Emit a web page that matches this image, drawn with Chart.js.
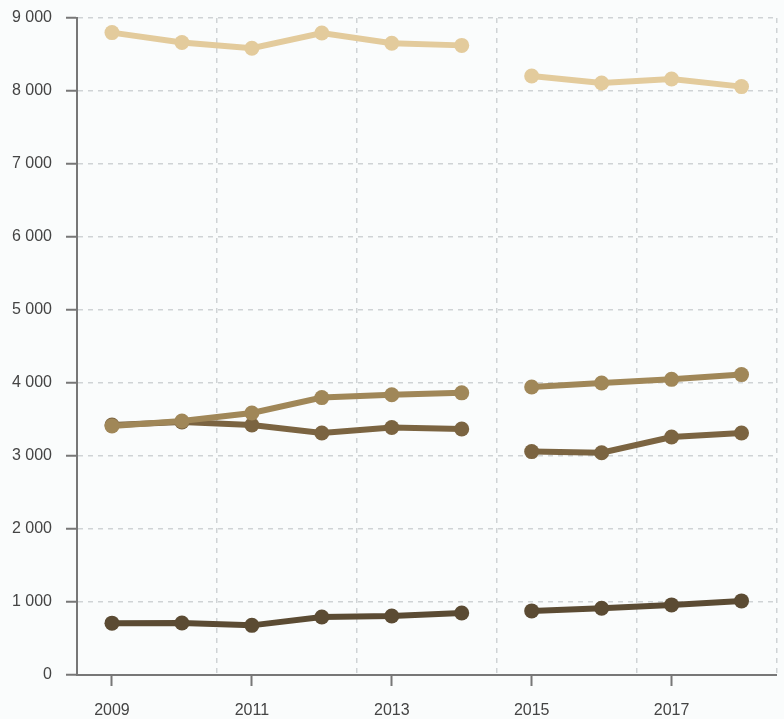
<!DOCTYPE html>
<html>
<head>
<meta charset="utf-8">
<script src="https://cdn.jsdelivr.net/npm/chart.js@4"></script>
<style>
  body { margin: 0; background: #fafcfc; }
  #wrap { width: 784px; height: 719px; position: relative; }
</style>
</head>
<body>
<div id="wrap"><canvas id="chart"></canvas></div>
<script>
let years = [2009, 2010, 2011, 2012, 2013, 2014, 2015, 2016, 2017, 2018];
let xLabelYears = [2009, 2011, 2013, 2015, 2017];
let gridYears = [2010.5, 2012.5, 2014.5, 2016.5, 2018.5];
let breakAfter = 2014; // series restart in 2015

let seriesLight  = [8800, 8665, 8585, 8795, 8655, 8625, 8205, 8110, 8165, 8060];
let seriesTan    = [3410, 3480, 3590, 3800, 3840, 3865, 3945, 4000, 4050, 4115];
let seriesMedium = [3425, 3465, 3425, 3315, 3390, 3370, 3060, 3045, 3260, 3315];
let seriesDark   = [710, 712, 680, 795, 808, 850, 878, 915, 960, 1015];

let Colors = ['#e3cb9c', '#a08758', '#7b6441', '#5b4b33'];
let allSeries = [seriesLight, seriesTan, seriesMedium, seriesDark];

function fmt(v){
    return String(v).replace(/\B(?=(\d{3})+(?!\d))/g, ' ');
}

let DataChart = allSeries.map((serie, i) => {
    return {
        data: serie.map((v, j) => ({x: years[j], y: v})),
        borderColor: Colors[i],
        backgroundColor: Colors[i],
        pointBackgroundColor: Colors[i],
        pointBorderWidth: 0,
        pointRadius: 7.5,
        borderWidth: 6,
        fill: false,
        tension: 0,
        segment: {
            borderColor: ctx => ctx.p0.parsed.x === breakAfter ? 'transparent' : undefined
        }
    }
});

let axisColor = '#777777';
let gridColor = '#cfd3d5';
let font = {family: '"Liberation Sans", Arial, sans-serif', size: 16};

// labels should not push the plot area around
function noPad(s){
    s.paddingTop = 0; s.paddingBottom = 0; s.paddingLeft = 0; s.paddingRight = 0;
}

new Chart(document.getElementById('chart'), {
    type: 'line',
    data: { datasets: DataChart },
    options: {
        responsive: true,
        maintainAspectRatio: false,
        animation: false,
        layout: { padding: {top: 18, right: 7, left: 0, bottom: 0} },
        plugins: { legend: { display: false }, tooltip: { enabled: false } },
        scales: {
            x: {
                type: 'linear',
                min: 2008.5,
                max: 2018.5,
                afterBuildTicks: s => { s.ticks = xLabelYears.map(v => ({value: v})); },
                afterFit: s => { s.height = 44; noPad(s); },
                ticks: { color: '#444', font: font, padding: 15, callback: v => String(v), maxRotation: 0 },
                grid: { drawOnChartArea: false, drawTicks: true, tickLength: 11, tickColor: axisColor, tickWidth: 2 },
                border: { color: axisColor, width: 2 }
            },
            xg: {
                type: 'linear',
                position: 'bottom',
                min: 2008.5,
                max: 2018.5,
                afterBuildTicks: s => { s.ticks = gridYears.map(v => ({value: v})); },
                afterFit: s => { s.height = 0; noPad(s); },
                ticks: { display: false },
                grid: { drawTicks: false, color: gridColor, lineWidth: 1.5 },
                border: { display: false, dash: [5, 5] }
            },
            y: {
                min: 0,
                max: 9000,
                afterFit: s => { s.width = 77; noPad(s); },
                ticks: { stepSize: 1000, color: '#444', font: font, padding: 14, callback: v => fmt(v) },
                grid: { color: gridColor, lineWidth: 1.5, tickLength: 11, tickColor: axisColor, tickWidth: 2 },
                border: { color: axisColor, width: 2, dash: [5, 5] }
            }
        }
    }
});
</script>
</body>
</html>
